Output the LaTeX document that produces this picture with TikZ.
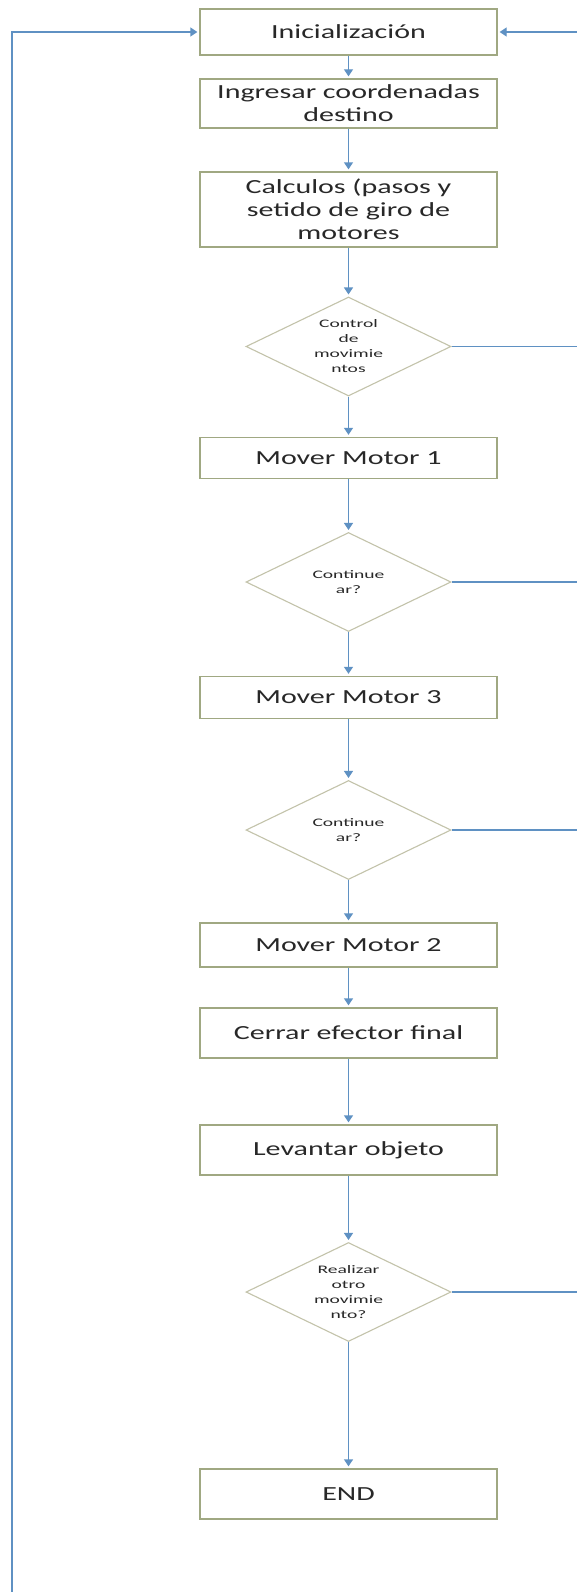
\documentclass[tikz,border=0pt]{standalone}
\usepackage{fontspec}
\setmainfont{Carlito}
\newfontfamily\boxfont[FakeStretch=1.5]{Carlito}
\newfontfamily\diafont[FakeStretch=1.7]{Carlito}
\usetikzlibrary{shapes.geometric,arrows.meta}
\definecolor{conn}{RGB}{95,145,195}
\definecolor{boxline}{RGB}{160,168,130}
\definecolor{dialine}{RGB}{195,195,170}
\definecolor{txt}{RGB}{40,40,40}
\begin{document}
\begin{tikzpicture}[x=1pt,y=-1pt,
  proc/.style={draw=boxline,line width=1.3pt,fill=white,minimum width=297pt,
    inner sep=0pt,align=center,text=txt,font=\boxfont\fontsize{20}{23}\selectfont},
  dec/.style={draw=dialine,line width=1.1pt,fill=white,diamond,inner sep=0pt,
    minimum width=205pt,minimum height=99pt},
  diatext/.style={align=center,text=txt,inner sep=0pt,font=\diafont\fontsize{11.5}{15}\selectfont},
  flow/.style={draw=conn,line width=1.3pt,-{Triangle[length=7pt,width=9pt]},shorten >=2pt},
  plain/.style={draw=conn,line width=1.3pt}]
\useasboundingbox[fill=white] (0,0) rectangle (577,1592);

\node[proc,minimum height=46pt] (init) at (348.5,32) {Inicialización};
\node[proc,minimum height=49pt] (ingr) at (348.5,103.5) {Ingresar coordenadas\\destino};
\node[proc,minimum height=75pt] (calc) at (348.5,209.5) {Calculos (pasos y\\setido de giro de\\motores};
\node[dec,label={[diatext]center:{Control\\de\\movimie\\ntos}}] (d1) at (348.5,346.5) {};
\node[proc,minimum height=41pt] (m1) at (348.5,458) {Mover Motor 1};
\node[dec,label={[diatext]center:{Continue\\ar?}}] (d2) at (348.5,582) {};
\node[proc,minimum height=42pt] (m3) at (348.5,697.5) {Mover Motor 3};
\node[dec,label={[diatext]center:{Continue\\ar?}}] (d3) at (348.5,830) {};
\node[proc,minimum height=44pt] (m2) at (348.5,945) {Mover Motor 2};
\node[proc,minimum height=50pt] (cerr) at (348.5,1033) {Cerrar efector final};
\node[proc,minimum height=50pt] (lev) at (348.5,1150) {Levantar objeto};
\node[dec,label={[diatext]center:{Realizar\\otro\\movimie\\nto?}}] (d4) at (348.5,1292) {};
\node[proc,minimum height=50pt] (fin) at (348.5,1494) {END};

\coordinate (lb) at (12,1600);
\coordinate (lt) at (12,32);
\coordinate (rt) at (577.5,32);

\draw[flow] (init) -- (ingr);
\draw[flow] (ingr) -- (calc);
\draw[flow] (calc) -- (d1);
\draw[flow] (d1) -- (m1);
\draw[flow] (m1) -- (d2);
\draw[flow] (d2) -- (m3);
\draw[flow] (m3) -- (d3);
\draw[flow] (d3) -- (m2);
\draw[flow] (m2) -- (cerr);
\draw[flow] (cerr) -- (lev);
\draw[flow] (lev) -- (d4);
\draw[flow] (d4) -- (fin);

\draw[flow] (lb) -- (lt) -- (init.west);
\draw[flow] (rt) -- (init.east);
\draw[plain] (rt) -- (rt |- d4.east);
\draw[plain] (d1.east) -- (d1.east -| rt);
\draw[plain] (d2.east) -- (d2.east -| rt);
\draw[plain] (d3.east) -- (d3.east -| rt);
\draw[plain] (d4.east) -- (d4.east -| rt);
\end{tikzpicture}
\end{document}
